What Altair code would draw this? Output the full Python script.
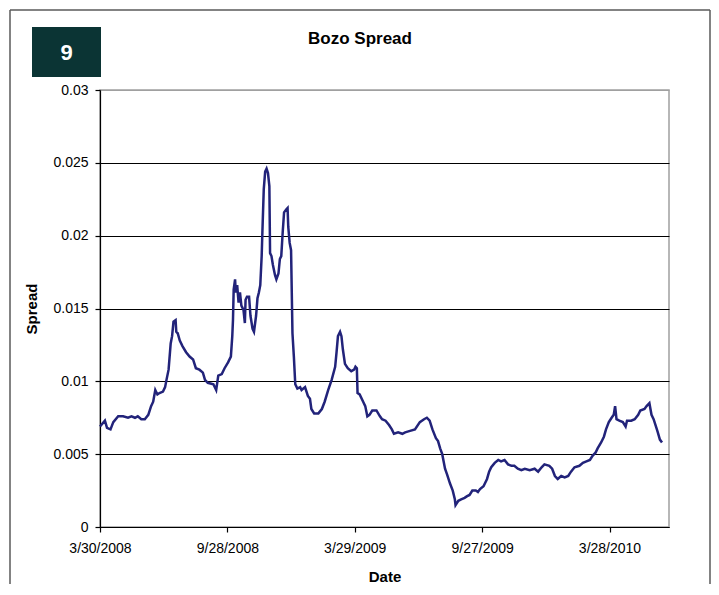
import altair as alt
import pandas as pd

START = "2008-03-30"

# days after 3/30/2008
days = [0, 7, 10, 15, 19, 26, 33, 40, 45, 50, 54, 59, 64, 69, 73, 76, 79, 82, 85, 90,
        93, 95, 98, 101, 103, 105, 108, 109, 111, 114, 118, 123, 128, 133, 137, 142, 147, 150, 154, 162,
        166, 169, 174, 178, 183, 187, 189, 190, 191, 193, 194, 196, 198, 200, 202, 205, 207, 208, 210, 213,
        215, 218, 220, 223, 225, 227, 229, 231, 232, 234, 236, 238, 240, 242, 243, 245, 247, 250, 252, 255,
        257, 259, 261, 263, 266, 268, 269, 271, 273, 275, 277, 279, 282, 286, 288, 293, 297, 300, 302, 306,
        312, 317, 321, 326, 331, 336, 338, 340, 343, 345, 347, 350, 354, 359, 363, 365, 367, 368, 371, 376,
        379, 382, 385, 389, 395, 400, 403, 408, 413, 417, 420, 426, 432, 436, 443, 450, 457, 463, 467, 471,
        475, 480, 483, 486, 489, 491, 493, 496, 500, 504, 507, 508, 512, 516, 521, 524, 528, 532, 537, 540,
        543, 548, 553, 556, 559, 564, 569, 573, 578, 583, 588, 592, 597, 602, 607, 614, 621, 626, 631, 635,
        642, 646, 650, 654, 659, 664, 669, 673, 678, 685, 690, 695, 700, 704, 708, 711, 716, 720, 723, 727,
        731, 734, 736, 738, 742, 747, 751, 753, 759, 764, 769, 772, 778, 781, 785, 788, 791, 795, 797, 800,
        803]

spread = [0.0069, 0.0073, 0.0068, 0.0067, 0.0072, 0.0076, 0.0076, 0.0075, 0.0076, 0.0075, 0.0076, 0.0074, 0.0074, 0.0077, 0.0083, 0.0086, 0.0094, 0.0091, 0.0092, 0.0093,
          0.0096, 0.0101, 0.0108, 0.0126, 0.0131, 0.0141, 0.0142, 0.0134, 0.0133, 0.0128, 0.0124, 0.0120, 0.0117, 0.0115, 0.0109, 0.0108, 0.0106, 0.0101, 0.0099, 0.0098,
          0.0094, 0.0104, 0.0105, 0.0109, 0.0113, 0.0117, 0.0131, 0.0142, 0.0163, 0.0170, 0.0161, 0.0166, 0.0154, 0.0161, 0.0152, 0.0149, 0.0140, 0.0156, 0.0158, 0.0158,
          0.0145, 0.0136, 0.0134, 0.0145, 0.0157, 0.0161, 0.0166, 0.0186, 0.0202, 0.0232, 0.0244, 0.0246, 0.0243, 0.0234, 0.0188, 0.0186, 0.0180, 0.0173, 0.0170, 0.0174,
          0.0184, 0.0186, 0.0202, 0.0216, 0.0218, 0.0219, 0.0206, 0.0195, 0.0190, 0.0133, 0.0117, 0.0098, 0.0095, 0.0096, 0.0094, 0.0096, 0.0090, 0.0088, 0.0081, 0.0078,
          0.0078, 0.0081, 0.0086, 0.0094, 0.0101, 0.0110, 0.0120, 0.0131, 0.0134, 0.0131, 0.0122, 0.0112, 0.0109, 0.0107, 0.0108, 0.0110, 0.0109, 0.0092, 0.0091, 0.0086,
          0.0083, 0.0076, 0.0077, 0.0080, 0.0080, 0.0076, 0.0074, 0.0073, 0.0070, 0.0067, 0.0064, 0.0065, 0.0064, 0.0065, 0.0066, 0.0067, 0.0072, 0.0074, 0.0075, 0.0073,
          0.0067, 0.0061, 0.0059, 0.0054, 0.0050, 0.0045, 0.0040, 0.0036, 0.0030, 0.0025, 0.0019, 0.0015, 0.0018, 0.0019, 0.0020, 0.0021, 0.0022, 0.0025, 0.0025, 0.0024,
          0.0026, 0.0028, 0.0033, 0.0038, 0.0041, 0.0044, 0.0046, 0.0045, 0.0046, 0.0043, 0.0042, 0.0042, 0.0040, 0.0039, 0.0040, 0.0039, 0.0040, 0.0038, 0.0041, 0.0043,
          0.0042, 0.0040, 0.0035, 0.0033, 0.0035, 0.0034, 0.0035, 0.0038, 0.0041, 0.0042, 0.0044, 0.0045, 0.0046, 0.0049, 0.0051, 0.0054, 0.0058, 0.0062, 0.0067, 0.0072,
          0.0075, 0.0077, 0.0083, 0.0074, 0.0073, 0.0072, 0.0069, 0.0073, 0.0073, 0.0074, 0.0077, 0.0080, 0.0081, 0.0083, 0.0085, 0.0077, 0.0074, 0.0068, 0.0065, 0.0060,
          0.0058]

x_ticks = ["2008-03-30", "2008-09-28", "2009-03-29", "2009-09-27", "2010-03-28"]
x_domain = ["2008-03-30", "2010-06-21"]
y_ticks = [0, 0.005, 0.01, 0.015, 0.02, 0.025, 0.03]

chart_title = "Bozo Spread"
badge = "9"

FONT = "Liberation Sans"


def dt(s):
    y, m, d = (int(p) for p in s.split("-"))
    return alt.DateTime(year=y, month=m, date=d)


dates = pd.Timestamp(START) + pd.to_timedelta(days, unit="D")
df = pd.DataFrame({"Date": dates.strftime("%Y-%m-%dT00:00:00"), "Spread": spread})

W, H = 569, 437

line = alt.Chart(df).mark_line(color="#22237a", strokeWidth=2.5).encode(
    x=alt.X(
        "Date:T",
        title="Date",
        scale=alt.Scale(domain=[dt(s) for s in x_domain]),
        axis=alt.Axis(
            values=[dt(s) for s in x_ticks],
            format="%-m/%-d/%Y",
            grid=False,
            labelFlush=False,
            labelOverlap=False,
            tickSize=5,
            labelPadding=9,
            titlePadding=14,
        ),
    ),
    y=alt.Y(
        "Spread:Q",
        title="Spread",
        scale=alt.Scale(domain=[0, 0.03], nice=False),
        axis=alt.Axis(
            values=y_ticks,
            format=".3~f",
            grid=True,
            gridColor={"condition": {"test": "datum.value >= 0.029", "value": "#a0a0a0"}, "value": "#000000"},
            gridWidth=1,
            tickSize=5,
            labelPadding=7,
            titlePadding=13,
        ),
    ),
)

one = pd.DataFrame({"t": [chart_title]})

frame_style = dict(color="#5a5a5a", strokeWidth=1.5)
frame_left = alt.Chart(one).mark_rule(**frame_style).encode(
    x=alt.value(-90), y=alt.value(-80), y2=alt.value(494)
)
frame_right = alt.Chart(one).mark_rule(**frame_style).encode(
    x=alt.value(610), y=alt.value(-80), y2=alt.value(494)
)
frame_top = alt.Chart(one).mark_rule(**frame_style).encode(
    x=alt.value(-90), x2=alt.value(610), y=alt.value(-80)
)

box = alt.Chart(one).mark_rect(color="#0b3434").encode(
    x=alt.value(-68), x2=alt.value(1), y=alt.value(-63), y2=alt.value(-13)
)

box_text = alt.Chart(pd.DataFrame({"t": [badge]})).mark_text(
    font=FONT, fontSize=22, fontWeight="bold", color="white", align="center", baseline="middle"
).encode(x=alt.value(-33.5), y=alt.value(-37), text="t:N")

title = alt.Chart(one).mark_text(
    font=FONT, fontSize=17, fontWeight="bold", color="#000000", align="center", baseline="alphabetic"
).encode(x=alt.value(260), y=alt.value(-46), text="t:N")

chart = alt.layer(frame_left, frame_right, frame_top, box, box_text, title, line).properties(
    width=W, height=H, padding={"left": 1, "top": 1, "right": 0, "bottom": 0}
).configure_view(
    stroke="#a0a0a0", strokeWidth=1.5
).configure_axis(
    labelFont=FONT, labelFontSize=14, labelColor="#000000",
    titleFont=FONT, titleFontSize=15, titleFontWeight="bold", titleColor="#000000",
    domainColor="#000000", domainWidth=1.2, tickColor="#000000", tickWidth=1.2,
)

chart.save("out.html", embed_options={"renderer": "svg", "actions": False})
